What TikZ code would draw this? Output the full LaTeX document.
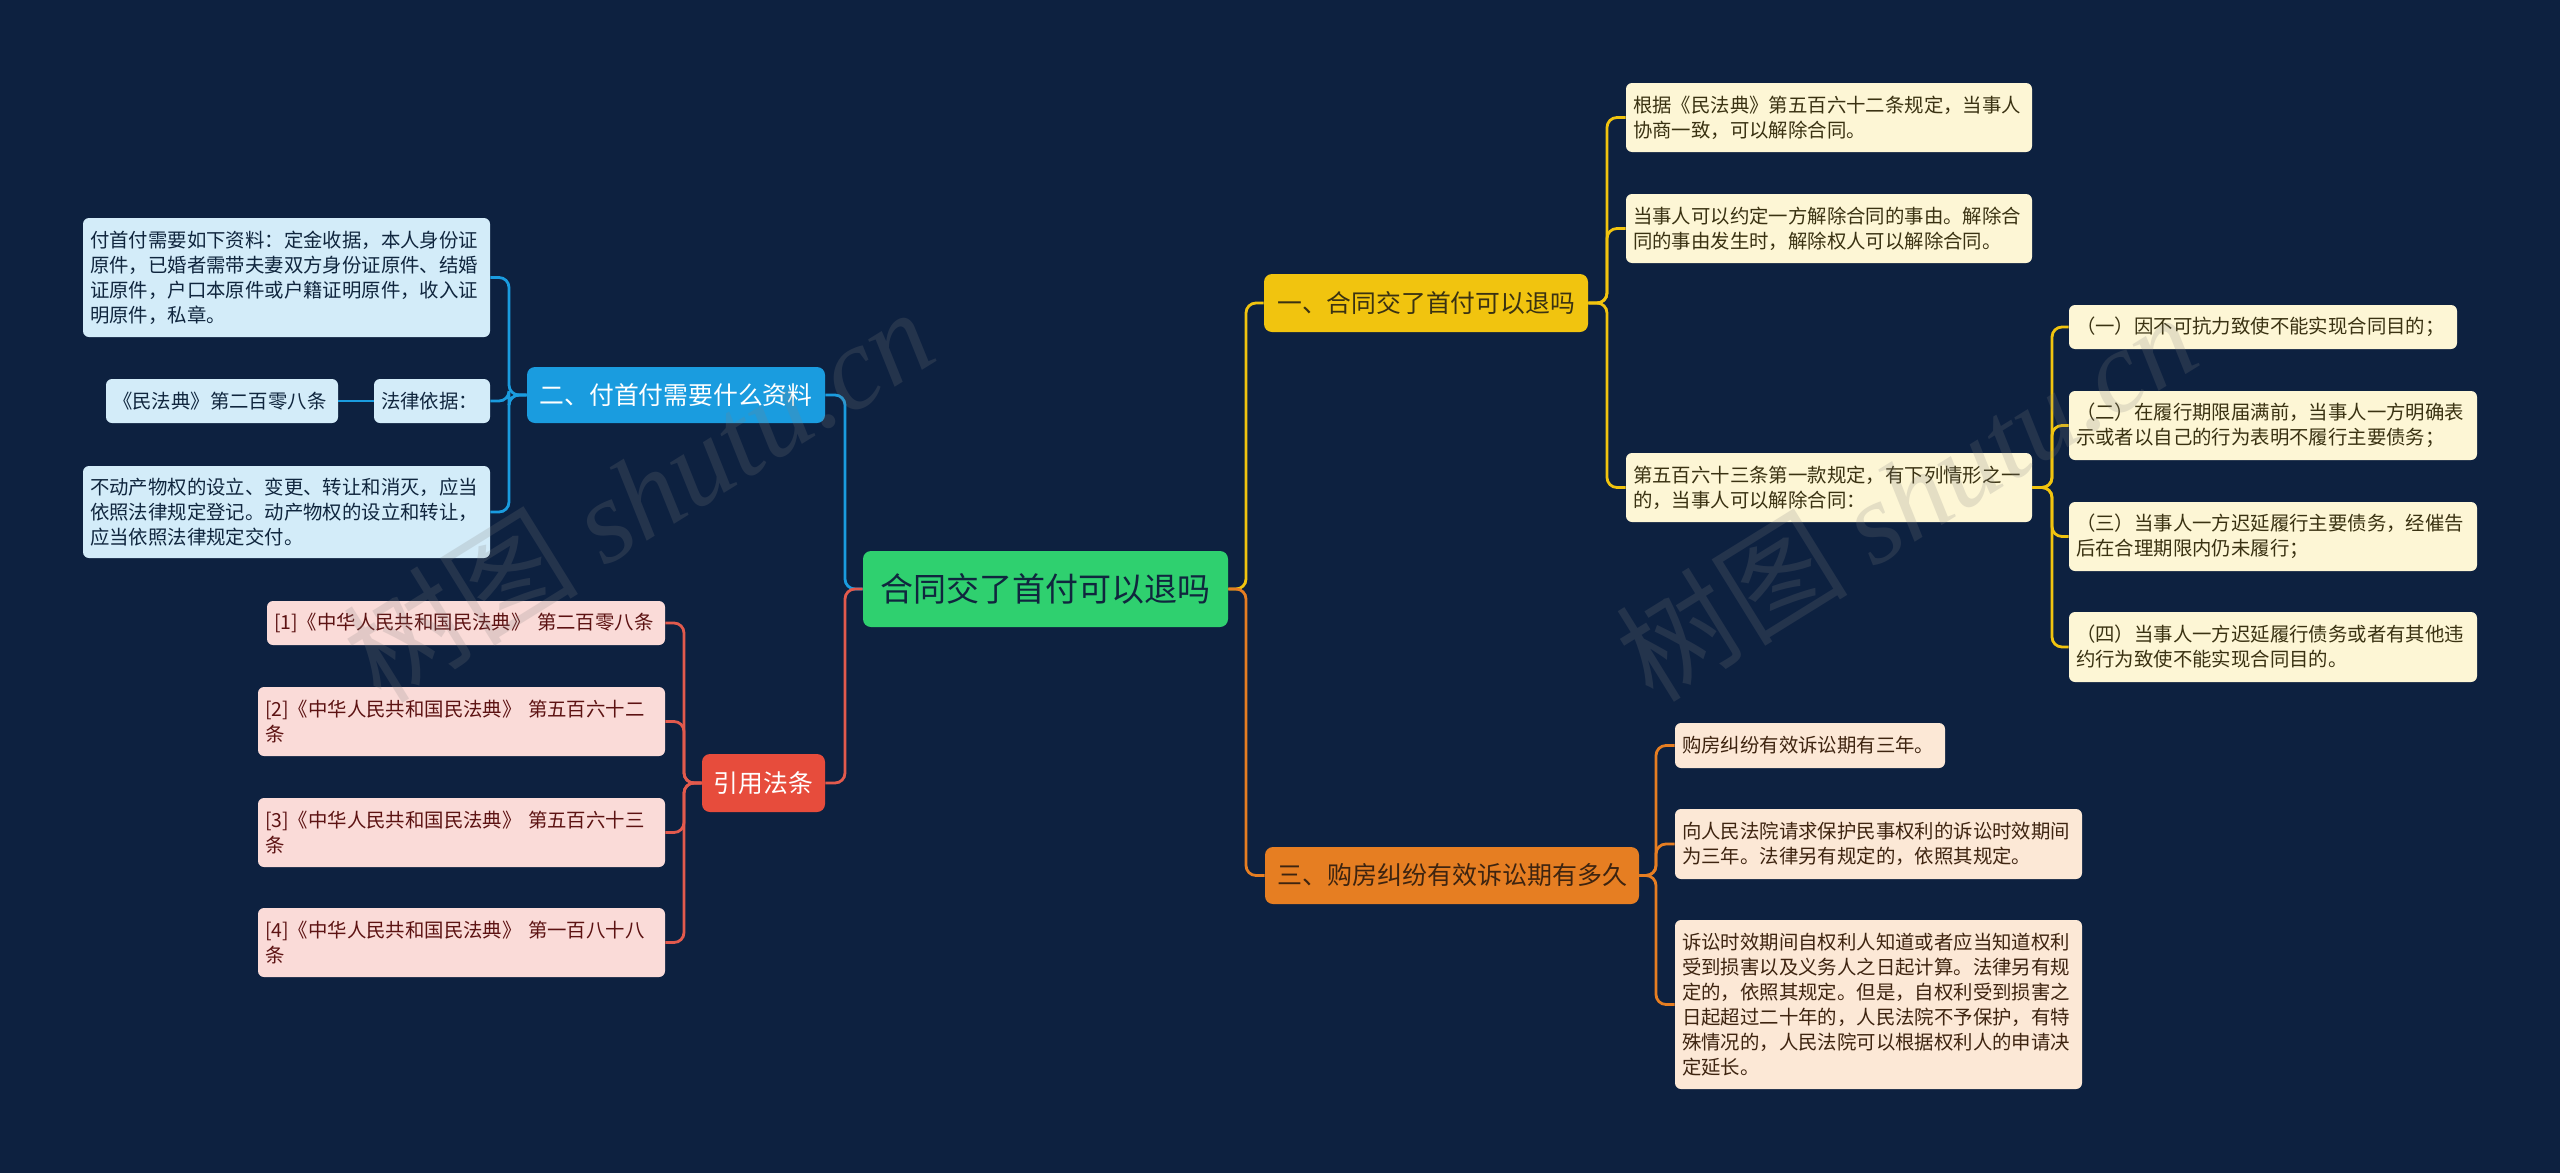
\documentclass[tikz,border=0pt]{standalone}
\usepackage{fontspec}
\setmainfont{Noto Sans CJK SC}
\newfontfamily\wmserif{Liberation Serif}
\usetikzlibrary{calc}
\definecolor{bgc}{HTML}{0D2140}
\definecolor{rootc}{HTML}{2FD06F}
\definecolor{ylwc}{HTML}{F1C40F}
\definecolor{orgc}{HTML}{E67E22}
\definecolor{bluc}{HTML}{1A9CDF}
\definecolor{redc}{HTML}{E74C3C}
\definecolor{ylwl}{HTML}{FDF6D5}
\definecolor{orgl}{HTML}{FCE8D6}
\definecolor{blul}{HTML}{D3ECF9}
\definecolor{redl}{HTML}{FADBD8}
\definecolor{ylwt}{HTML}{3A3212}
\definecolor{orgt}{HTML}{3E2410}
\definecolor{blut}{HTML}{10263E}
\definecolor{redt}{HTML}{5C1212}
\definecolor{redln}{HTML}{E25A4D}
\tikzset{
  leafbox/.style={rounded corners=3pt, inner xsep=3.5pt, inner ysep=0pt, align=left, anchor=center,
    font=\fontsize{9.7pt}{12.5pt}\selectfont},
  headbox/.style={rounded corners=4pt, inner sep=0pt, align=center, anchor=center},
  conn/.style={line width=1.4pt, rounded corners=5pt},
  ylwleaf/.style={leafbox, fill=ylwl, text=ylwt},
  orgleaf/.style={leafbox, fill=orgl, text=orgt},
  bluleaf/.style={leafbox, fill=blul, text=blut},
  redleaf/.style={leafbox, fill=redl, text=redt},
  wmark/.style={text=gray, text opacity=0.2, rotate=31.8, anchor=center, inner sep=0pt}
}
\begin{document}
\begin{tikzpicture}[x=0.5pt,y=-0.5pt]
\fill[bgc] (0,0) rectangle (2560,1173);
\useasboundingbox (0,0) rectangle (2560,1173);

% root
\node[headbox, fill=rootc, text=blut, minimum width=182.5pt, minimum height=38pt,
  font=\fontsize{16.5pt}{20pt}\selectfont] (root) at (1045.5,589) {合同交了首付可以退吗};

% headers
\node[headbox, fill=ylwc, text=ylwt, minimum width=162pt, minimum height=29pt,
  font=\fontsize{12.4pt}{15pt}\selectfont] (H1) at (1426,303) {一、合同交了首付可以退吗};
\node[headbox, fill=bluc, text=white, minimum width=149pt, minimum height=28pt,
  font=\fontsize{12.4pt}{15pt}\selectfont] (H2) at (676,395) {二、付首付需要什么资料};
\node[headbox, fill=orgc, text=orgt, minimum width=187pt, minimum height=28.5pt,
  font=\fontsize{12.5pt}{15pt}\selectfont] (H3) at (1452,875.5) {三、购房纠纷有效诉讼期有多久};
\node[headbox, fill=redc, text=white, minimum width=61.5pt, minimum height=29pt,
  font=\fontsize{12.4pt}{15pt}\selectfont] (H4) at (763.5,783) {引用法条};

% yellow leaves
\node[ylwleaf, text width=196pt, minimum height=34.5pt] (L1) at (1829,117.5)
  {根据《民法典》第五百六十二条规定，当事人\\协商一致，可以解除合同。};
\node[ylwleaf, text width=196pt, minimum height=34.5pt] (L2) at (1829,228.5)
  {当事人可以约定一方解除合同的事由。解除合\\同的事由发生时，解除权人可以解除合同。};
\node[ylwleaf, text width=196pt, minimum height=34.5pt] (L3) at (1829,487.5)
  {第五百六十三条第一款规定，有下列情形之一\\的，当事人可以解除合同：};
\node[ylwleaf, text width=187pt, minimum height=22pt] (S1) at (2263,327)
  {（一）因不可抗力致使不能实现合同目的；};
\node[ylwleaf, text width=197pt, minimum height=34.5pt] (S2) at (2273,425.5)
  {（二）在履行期限届满前，当事人一方明确表\\示或者以自己的行为表明不履行主要债务；};
\node[ylwleaf, text width=197pt, minimum height=34.5pt] (S3) at (2273,536.5)
  {（三）当事人一方迟延履行主要债务，经催告\\后在合理期限内仍未履行；};
\node[ylwleaf, text width=197pt, minimum height=35pt] (S4) at (2273,647)
  {（四）当事人一方迟延履行债务或者有其他违\\约行为致使不能实现合同目的。};

% orange leaves
\node[orgleaf, text width=128pt, minimum height=22.5pt] (O1) at (1810,745.5)
  {购房纠纷有效诉讼期有三年。};
\node[orgleaf, text width=196.5pt, minimum height=35pt] (O2) at (1878.5,844)
  {向人民法院请求保护民事权利的诉讼时效期间\\为三年。法律另有规定的，依照其规定。};
\node[orgleaf, text width=196.5pt, minimum height=84.5pt] (O3) at (1878.5,1004.5)
  {诉讼时效期间自权利人知道或者应当知道权利\\受到损害以及义务人之日起计算。法律另有规\\定的，依照其规定。但是，自权利受到损害之\\日起超过二十年的，人民法院不予保护，有特\\殊情况的，人民法院可以根据权利人的申请决\\定延长。};

% blue leaves
\node[bluleaf, text width=196.5pt, minimum height=59.5pt] (B1) at (286.5,277.5)
  {付首付需要如下资料：定金收据，本人身份证\\原件，已婚者需带夫妻双方身份证原件、结婚\\证原件，户口本原件或户籍证明原件，收入证\\明原件，私章。};
\node[bluleaf, text width=51pt, minimum height=22pt] (B2) at (432,401) {法律依据：};
\node[bluleaf, text width=109pt, minimum height=22pt] (B3) at (222,401) {《民法典》第二百零八条};
\node[bluleaf, text width=196.5pt, minimum height=46pt] (B4) at (286.5,512)
  {不动产物权的设立、变更、转让和消灭，应当\\依照法律规定登记。动产物权的设立和转让，\\应当依照法律规定交付。};

% red leaves
\node[redleaf, text width=192pt, minimum height=22pt] (R1) at (466,623)
  {[1]《中华人民共和国民法典》~第二百零八条};
\node[redleaf, text width=196.5pt, minimum height=34.5pt] (R2) at (461.5,721.5)
  {[2]《中华人民共和国民法典》~第五百六十二\\条};
\node[redleaf, text width=196.5pt, minimum height=34.5pt] (R3) at (461.5,832.5)
  {[3]《中华人民共和国民法典》~第五百六十三\\条};
\node[redleaf, text width=196.5pt, minimum height=34.5pt] (R4) at (461.5,942.5)
  {[4]《中华人民共和国民法典》~第一百八十八\\条};

% junction coordinates
\coordinate (jl) at (845,589);
\coordinate (jr) at (1246,589);
\coordinate (jy) at (1607,303);
\coordinate (jy2) at (2052,487.5);
\coordinate (jo) at (1656,875.5);
\coordinate (jb) at (509,395);
\coordinate (jrd) at (684,783);

% root connectors
\draw[conn, bluc] (root.west) -- (jl) |- (H2.east);
\draw[conn, redln] (root.west) -- (jl) |- (H4.east);
\draw[conn, ylwc] (root.east) -- (jr) |- (H1.west);
\draw[conn, orgc] (root.east) -- (jr) |- (H3.west);

% yellow
\foreach \n in {L1,L2,L3} \draw[conn, ylwc] (H1.east) -- (jy) |- (\n.west);
\foreach \n in {S1,S2,S3,S4} \draw[conn, ylwc] (L3.east) -- (jy2) |- (\n.west);
% orange
\foreach \n in {O1,O2,O3} \draw[conn, orgc] (H3.east) -- (jo) |- (\n.west);
% blue
\foreach \n in {B1,B2,B4} \draw[conn, bluc] (H2.west) -- (jb) |- (\n.east);
\draw[conn, bluc] (B2.west) -- (B3.east);
% red
\foreach \n in {R1,R2,R3,R4} \draw[conn, redln] (H4.west) -- (jrd) |- (\n.east);

% watermarks
\node[wmark, font=\fontsize{59pt}{63pt}\selectfont] (wm1) at (638,494)
  {树图 {\wmserif\itshape shutu.cn}};
\node[wmark, font=\fontsize{58pt}{62pt}\selectfont] (wm2) at (1906,496)
  {树图 {\wmserif\itshape shutu.cn}};
\end{tikzpicture}
\end{document}
